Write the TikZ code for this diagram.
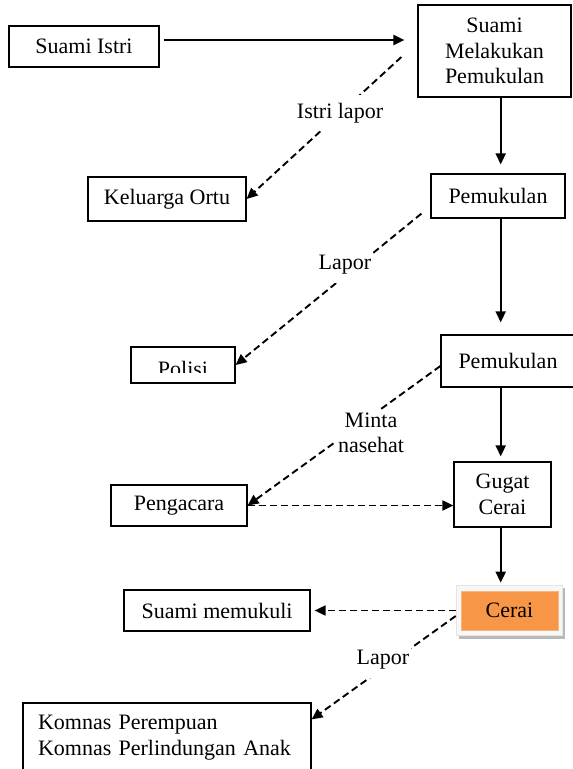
\documentclass[tikz,border=0pt]{standalone}
\usepackage{fontspec}
\setmainfont{Liberation Serif}
\usetikzlibrary{arrows.meta,backgrounds}
\definecolor{ceraiorange}{RGB}{247,150,70}
\begin{document}
\begin{tikzpicture}[x=1pt, y=-1pt, font=\fontsize{22}{25.5}\selectfont, >={Triangle[length=11pt,width=10pt]},
	kotak/.style={draw, line width=1.2pt, inner sep=0pt, align=center},
	panah/.style={->, line width=2pt},
	putus/.style={->, line width=1.9pt, dash pattern=on 7pt off 4pt},
	ket/.style={fill=white, inner xsep=2pt, inner ysep=8pt, align=center}]
	\useasboundingbox (0,0) rectangle (573,769);
	\clip (0,0) rectangle (573,769);
	\coordinate (ax) at (500.7,0);
	% kotak-kotak
	\node[kotak, minimum width=150, minimum height=41] (si) at (84,46.5) {Suami Istri};
	\node[kotak, minimum width=153, minimum height=92] (smp) at (494.5,51) {Suami\\Melakukan\\Pemukulan};
	\node[kotak, minimum width=158, minimum height=44] (ko) at (167,199) {Keluarga Ortu};
	\node[kotak, minimum width=134, minimum height=44] (pm1) at (498,196) {Pemukulan};
	\node[kotak, minimum width=104, minimum height=36, path picture={
		\clip (path picture bounding box.north west) rectangle ([yshift=10.5pt]path picture bounding box.south east);
		\node[anchor=base] at ([yshift=-11pt]path picture bounding box.center) {Polisi};}] (pol) at (183,365) {};
	\node[kotak, minimum width=134, minimum height=52] (pm2) at (508,361) {Pemukulan};
	\node[kotak, minimum width=136, minimum height=41] (pg) at (179,505.5) {Pengacara};
	\node[kotak, minimum width=97, minimum height=65] (gc) at (502.5,494.5) {Gugat\\Cerai};
	\node[kotak, fill=ceraiorange, draw=ceraiorange!70!white, line width=0.6pt, minimum width=97, minimum height=39] (cr) at (509.5,610.5) {Cerai};
	\node[kotak, minimum width=186, minimum height=41] (sm) at (217,610.5) {Suami memukuli};
	\node[kotak, align=left, text width=258pt, inner xsep=15pt, minimum height=69] (km) at (167,737.5) {Komnas Perempuan\\Komnas Perlindungan Anak};
	\begin{scope}[on background layer]
		\fill[gray!55] ([xshift=-2pt,yshift=3pt]cr.north west) rectangle ([xshift=7pt,yshift=-9pt]cr.south east);
		\filldraw[fill=gray!6, draw=gray!20] ([xshift=-5pt,yshift=6pt]cr.north west) rectangle ([xshift=4pt,yshift=-5pt]cr.south east);
	\end{scope}
	% panah utama
	\draw[panah] ([xshift=4pt,yshift=6.5pt]si.east) -- ([xshift=-13pt,yshift=11pt]smp.west);
	\foreach \a/\b/\s in {smp/pm1/9, pm1/pm2/12, pm2/gc/5, gc/cr/8}{
		\draw[panah, shorten >=\s pt] (\a.south -| ax) -- (\b.north -| ax);
	}
	% panah putus-putus
	\draw[putus] ([xshift=-16pt,yshift=-6pt]smp.west) -- (ko.east);
	\draw[putus] ([xshift=-9pt,yshift=5pt]pm1.south west) -- (pol.east);
	\draw[putus] ([yshift=-5pt]pm2.west) -- (pg.east);
	\draw[putus] (pg.east) -- (pg.east -| gc.west);
	\draw[putus, shorten >=4pt] ([xshift=-5pt]cr.west) -- (sm.east);
	\draw[putus] ([xshift=-5pt,yshift=-5.5pt]cr.west) -- ([yshift=-17pt]km.north east);
	% keterangan
	\node[ket] (l1) at (340,113) {Istri lapor};
	\node[ket] (l2) at (345,265) {Lapor};
	\node[ket, inner ysep=3pt] (l3) at (371,433) {Minta\\nasehat};
	\node[ket] (l4) at (383,660) {Lapor};
\end{tikzpicture}
\end{document}
